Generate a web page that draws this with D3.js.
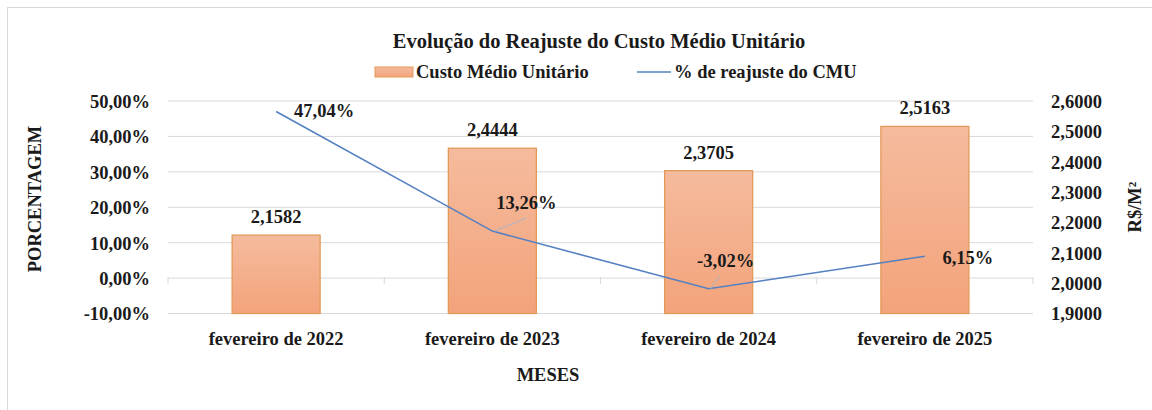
<!DOCTYPE html>
<html>
<head>
<meta charset="utf-8">
<script src="https://cdn.jsdelivr.net/npm/d3@7"></script>
<style>
  body { margin: 0; background: #fff; }
  svg text { font-family: "Liberation Serif", "Times New Roman", serif; font-weight: bold; fill: #1a1a1a; }
</style>
</head>
<body>
<svg width="1152" height="410"></svg>
<script>
// data
const meses = ['fevereiro de 2022', 'fevereiro de 2023', 'fevereiro de 2024', 'fevereiro de 2025'];
const custoMedio = [2.1582, 2.4444, 2.3705, 2.5163];
const reajuste = [47.04, 13.26, -3.02, 6.15];
const pctTicks = [-10, 0, 10, 20, 30, 40, 50];
const cmuTicks = [1.9, 2.0, 2.1, 2.2, 2.3, 2.4, 2.5, 2.6];

// label offsets for the % labels (dx, dy from the point)
const pctLabelOffset = [[48, 6], [34, -22], [17, -22], [43, 8]];

const svg = d3.select('svg');
const fs = 18.5;
const fmtPct = v => d3.format('.2f')(v).replace('.', ',').replace('\u2212', '-') + '%';
const fmtCmu = v => d3.format('.4f')(v).replace('.', ',');

// chart border
svg.append('rect')
  .attr('x', 7.5).attr('y', 7.5)
  .attr('width', 1200).attr('height', 500)
  .attr('fill', 'none').attr('stroke', '#d9d9d9');

const pLeft = 168, pRight = 1033, pTop = 101, pBottom = 313.5;

const x = d3.scaleBand().domain(meses).range([pLeft, pRight]).paddingInner(0).paddingOuter(0);
const yPct = d3.scaleLinear().domain([-10, 50]).range([pBottom, pTop]);
const yCmu = d3.scaleLinear().domain([1.9, 2.6]).range([pBottom, pTop]);

// gridlines
svg.append('g').selectAll('line').data(pctTicks).join('line')
  .attr('x1', pLeft).attr('x2', pRight)
  .attr('y1', d => yPct(d)).attr('y2', d => yPct(d))
  .attr('stroke', '#d9d9d9').attr('stroke-width', 1);

// category tick marks on the 0% line
svg.append('g').selectAll('line').data(d3.range(meses.length + 1)).join('line')
  .attr('x1', i => pLeft + i * x.bandwidth()).attr('x2', i => pLeft + i * x.bandwidth())
  .attr('y1', yPct(0) - 1).attr('y2', yPct(0) + 6)
  .attr('stroke', '#d9d9d9');

// left axis
const axL = svg.append('g').attr('transform', `translate(${pLeft - 15},0)`)
  .call(d3.axisLeft(yPct).tickValues(pctTicks).tickFormat(fmtPct).tickSize(0));
axL.select('.domain').remove();
axL.selectAll('text').attr('font-size', fs).attr('dy', '0.35em');

// right axis
const axR = svg.append('g').attr('transform', `translate(${pRight + 15},0)`)
  .call(d3.axisRight(yCmu).tickValues(cmuTicks).tickFormat(fmtCmu).tickSize(0));
axR.select('.domain').remove();
axR.selectAll('text').attr('font-size', fs).attr('dy', '0.35em');

// bottom axis labels
svg.append('g').selectAll('text').data(meses).join('text')
  .attr('x', d => x(d) + x.bandwidth() / 2)
  .attr('y', pBottom + 31)
  .attr('text-anchor', 'middle').attr('font-size', fs)
  .text(d => d);

// gradient
const grad = svg.append('defs').append('linearGradient')
  .attr('id', 'barGrad').attr('x1', 0).attr('y1', 0).attr('x2', 0).attr('y2', 1);
grad.append('stop').attr('offset', '0%').attr('stop-color', '#f5bb9d');
grad.append('stop').attr('offset', '100%').attr('stop-color', '#f3a37b');

// bars
const barW = 88;
svg.append('g').selectAll('rect').data(custoMedio).join('rect')
  .attr('x', (d, i) => x(meses[i]) + x.bandwidth() / 2 - barW / 2)
  .attr('y', d => yCmu(d))
  .attr('width', barW)
  .attr('height', d => yCmu(1.9) - yCmu(d))
  .attr('fill', 'url(#barGrad)')
  .attr('stroke', '#e39a58').attr('stroke-width', 1.3);

// bar labels
svg.append('g').selectAll('text').data(custoMedio).join('text')
  .attr('x', (d, i) => x(meses[i]) + x.bandwidth() / 2)
  .attr('y', d => yCmu(d) - 12)
  .attr('text-anchor', 'middle').attr('font-size', fs)
  .text(fmtCmu);

// line
const cx = i => x(meses[i]) + x.bandwidth() / 2;
const line = d3.line().x((d, i) => cx(i)).y(d => yPct(d));
svg.append('path').datum(reajuste)
  .attr('d', line)
  .attr('fill', 'none').attr('stroke', '#5580c2').attr('stroke-width', 1.6);

// leader lines
const leaders = [1, 2];
svg.append('g').selectAll('line').data(leaders).join('line')
  .attr('x1', i => cx(i) + 2).attr('y1', i => yPct(reajuste[i]))
  .attr('x2', i => cx(i) + pctLabelOffset[i][0] - (i === 1 ? 0 : 6))
  .attr('y2', i => yPct(reajuste[i]) + pctLabelOffset[i][1] + 9)
  .attr('stroke', '#a6b4c8').attr('stroke-width', 1);

// line labels
svg.append('g').selectAll('text').data(reajuste).join('text')
  .attr('x', (d, i) => cx(i) + pctLabelOffset[i][0])
  .attr('y', (d, i) => yPct(d) + pctLabelOffset[i][1])
  .attr('text-anchor', 'middle').attr('font-size', fs)
  .text(fmtPct);

// title
svg.append('text').attr('x', 599).attr('y', 48)
  .attr('text-anchor', 'middle').attr('font-size', 20.5)
  .text('Evolução do Reajuste do Custo Médio Unitário');

// legend
svg.append('rect').attr('x', 375).attr('y', 67).attr('width', 38).attr('height', 10)
  .attr('fill', 'url(#barGrad)').attr('stroke', '#e39a58');
svg.append('text').attr('x', 416).attr('y', 78).attr('font-size', fs).text('Custo Médio Unitário');
svg.append('line').attr('x1', 637).attr('x2', 671).attr('y1', 72).attr('y2', 72)
  .attr('stroke', '#5580c2').attr('stroke-width', 1.6);
svg.append('text').attr('x', 674).attr('y', 78).attr('font-size', fs).text('% de reajuste do CMU');

// axis titles
svg.append('text').attr('transform', 'translate(41,199) rotate(-90)')
  .attr('text-anchor', 'middle').attr('font-size', fs).text('PORCENTAGEM');
svg.append('text').attr('transform', 'translate(1141,207) rotate(-90)')
  .attr('text-anchor', 'middle').attr('font-size', fs).text('R$/M²');
svg.append('text').attr('x', 548).attr('y', 381)
  .attr('text-anchor', 'middle').attr('font-size', fs).text('MESES');
</script>
</body>
</html>
